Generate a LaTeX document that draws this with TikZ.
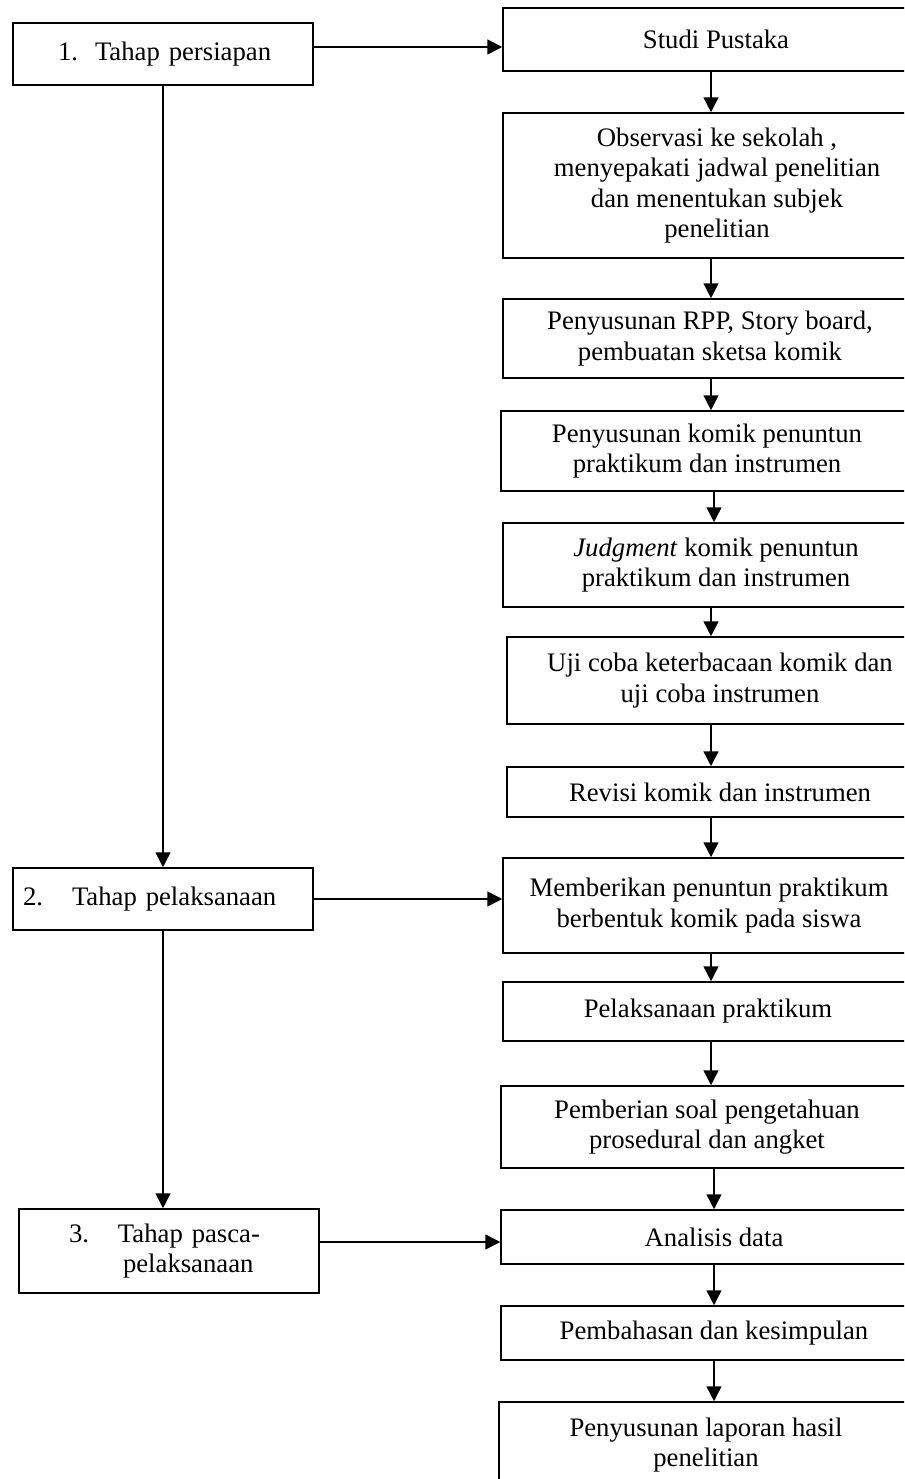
\documentclass[tikz,border=0pt]{standalone}
\usepackage{fontspec}
\setmainfont{Liberation Serif}
\usetikzlibrary{arrows.meta,positioning,calc}
\tikzstyle{box} = [draw=black, line width=0.9pt, inner sep=0pt, align=center, font=\fontsize{15.2}{17.4}\selectfont]
\tikzstyle{stage} = [box, minimum width=6cm, text width=6cm, align=left]
\tikzstyle{task} = [box, minimum width=8.52cm]
\tikzstyle{arrow} = [line width=0.9pt, -{Triangle[length=8.5pt,width=8.5pt]}]

\begin{document}
\begin{tikzpicture}[x=0.02cm, y=-0.02cm]
\useasboundingbox (0,0) rectangle (904,1479);
\clip (0,0) rectangle (904,1479);
% tahap (kiri)
\node[stage, minimum height=1.24cm] (b1) at (163,54) {\hspace*{0.9cm}\makebox[0.74cm][l]{1.}Tahap persiapan};
\node[stage, minimum height=1.24cm] (b2) at (163,899) {\hspace*{0.2cm}\makebox[0.98cm][l]{2.}Tahap pelaksanaan};
\node[stage, minimum height=1.68cm] (b3) at (169,1251) {\hspace*{1cm}\makebox[0.98cm][l]{3.}Tahap pasca-\\\hspace*{2.08cm}pelaksanaan};
% kegiatan (kanan)
\node[task, minimum height=1.26cm] (s1) at (716,39.5) {Studi Pustaka};
\node[task, minimum height=2.9cm, minimum width=8.56cm] (s2) at (717,185.5) {Observasi ke sekolah ,\\menyepakati jadwal penelitian\\dan menentukan subjek\\penelitian};
\node[task, minimum height=1.58cm, minimum width=8.28cm] (s3) at (710,338.5) {Penyusunan RPP, Story board,\\pembuatan sketsa komik};
\node[task, minimum height=1.6cm, minimum width=8.24cm] (s4) at (707,451) {Penyusunan komik penuntun\\praktikum dan instrumen};
\node[task, minimum height=1.68cm] (s5) at (716,565) {\textit{Judgment} komik penuntun\\praktikum dan instrumen};
\node[task, minimum height=1.74cm] (s6) at (720,680.5) {Uji coba keterbacaan komik dan\\uji coba instrumen};
\node[task, minimum height=1cm] (s7) at (720,792) {Revisi komik dan instrumen};
\node[task, minimum height=1.9cm, minimum width=8.24cm] (s8) at (709,905.5) {Memberikan penuntun praktikum\\berbentuk komik pada siswa};
\node[task, minimum height=1.18cm, minimum width=8.2cm] (s9) at (708,1011.5) {Pelaksanaan praktikum};
\node[task, minimum height=1.64cm, minimum width=8.24cm] (s10) at (707,1127) {Pemberian soal pengetahuan\\prosedural dan angket};
\node[task, minimum height=1.08cm] (s11) at (714,1237) {Analisis data};
\node[task, minimum height=1.08cm] (s12) at (714,1333) {Pembahasan dan kesimpulan};
\node[task, minimum height=1.72cm, minimum width=8.28cm] (s13) at (706,1445) {Penyusunan laporan hasil\\penelitian};
% panah
\draw[arrow] (b1.south) -- (b2.north);
\draw[arrow] (b2.south) -- (b2.south |- b3.north);
\coordinate (a1) at ([yshift=0.14cm]b1.east);
\coordinate (a3) at ([yshift=0.18cm]b3.east);
\draw[arrow] (a1) -- (a1 -| s1.west);
\draw[arrow] (b2.east) -- (b2.east -| s8.west);
\draw[arrow] (a3) -- (a3 -| s11.west);
\coordinate (cola) at (711,0);
\coordinate (colb) at (714,0);
\foreach \a/\b/\c in {s1/s2/cola,s2/s3/cola,s3/s4/cola,s4/s5/colb,s5/s6/cola,s6/s7/cola,s7/s8/cola,s8/s9/cola,s9/s10/cola,s10/s11/colb,s11/s12/colb,s12/s13/colb}
  \draw[arrow] (\a.south -| \c) -- (\b.north -| \c);
\end{tikzpicture}
\end{document}
